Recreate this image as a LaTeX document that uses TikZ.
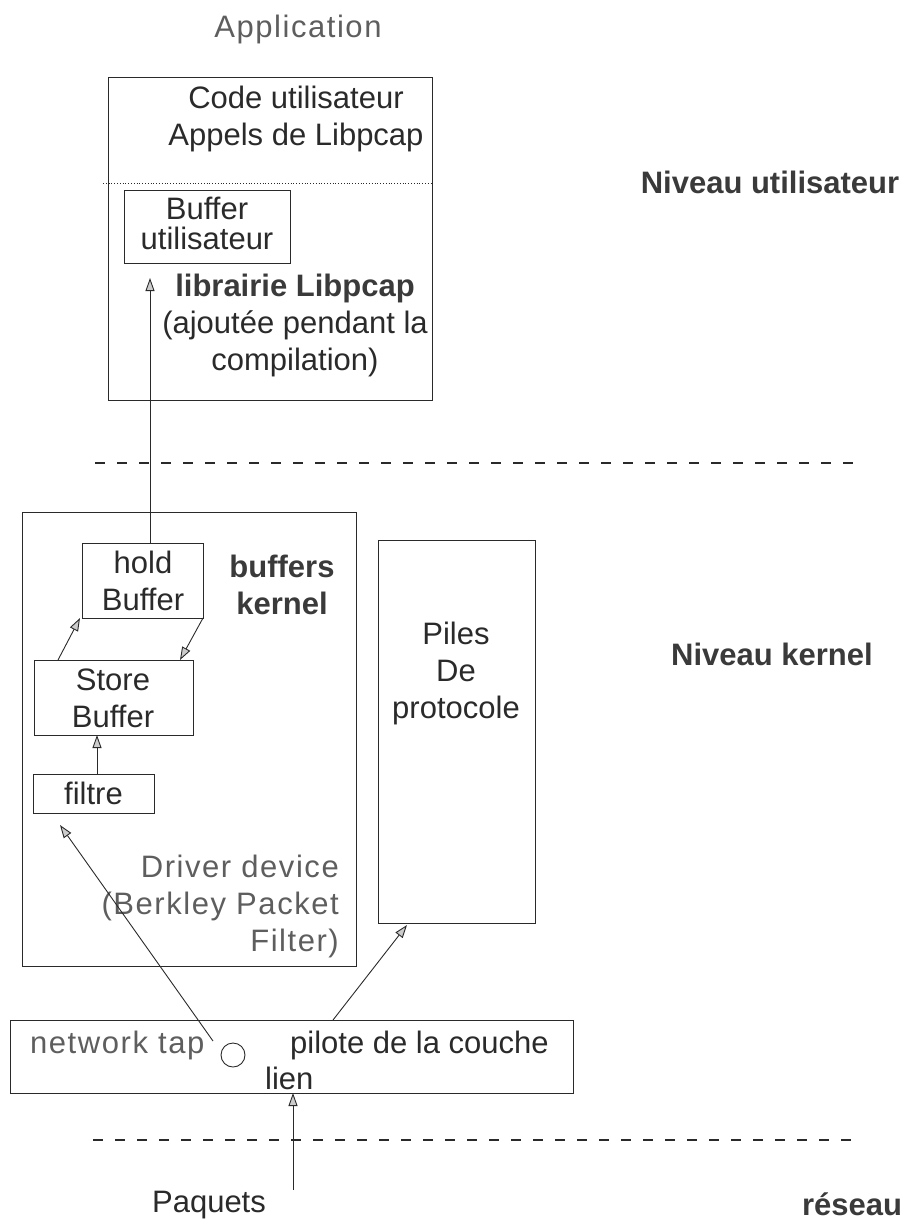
\documentclass[tikz,border=0pt]{standalone}
\usepackage{fontspec}
\setmainfont{Liberation Sans}
\newfontfamily\spacedfont[LetterSpace=5]{Liberation Sans}
\usetikzlibrary{arrows.meta,calc}

\definecolor{ink}{HTML}{2A2A2A}
\definecolor{soft}{HTML}{5E5E5E}
\definecolor{headc}{HTML}{3A3A3A}

\tikzset{
  frame/.style={draw=ink, line width=0.9pt, inner sep=0pt, outer sep=0pt},
  lbl/.style={font=\fontsize{31}{37}\selectfont, text=ink, align=center, inner sep=0pt},
  heading/.style={lbl, font=\fontsize{31}{37}\selectfont\bfseries, text=headc},
  faded/.style={lbl, font=\fontsize{31}{37}\selectfont\spacedfont, text=soft},
  flow/.style={draw=ink, line width=0.9pt, -{Triangle[length=13pt,width=9pt,fill=gray!40]}},
  layer/.style={draw=ink, line width=1.1pt, dash pattern=on 10pt off 12pt},
  sep/.style={draw=ink, line width=0.8pt, dotted},
}

\begin{document}
\begin{tikzpicture}[x=1pt, y=-1pt]
  \useasboundingbox (0,0) rectangle (910,1224);

  % ---- user level ----
  \node[faded] (app) at (298,29) {Application};
  \node[frame, minimum width=324pt, minimum height=323pt] (userbox) at (270,238.5) {};
  \node[lbl] (code) at (296,119) {Code utilisateur\\Appels de Libpcap};
  \coordinate (dotstart) at (103,183);
  \draw[sep] (dotstart) -- (userbox.east |- dotstart);
  \node[frame, minimum width=166pt, minimum height=73pt] (bufu) at (207,226.5) {};
  \node[lbl, font=\fontsize{31}{30}\selectfont] (bufutext) at (207,223) {Buffer\\utilisateur};
  \node[lbl] (libtext) at (295,325) {{\bfseries\color{headc}librairie Libpcap}\\(ajoutée pendant la\\compilation)};
  \node[heading] (nivu) at (770,182) {Niveau utilisateur};

  % ---- boundary user / kernel ----
  \coordinate (d1a) at (95,463);
  \coordinate (d1b) at (860,463);
  \draw[layer] (d1a) -- (d1b);

  % ---- kernel level ----
  \node[frame, minimum width=334pt, minimum height=454pt] (kernel) at (189,739) {};
  \node[frame, minimum width=121pt, minimum height=75pt] (hold) at (142.5,580.5) {};
  \node[lbl] (holdtext) at (143,581) {hold\\Buffer};
  \node[heading] (bufk) at (282,585) {buffers\\kernel};
  \node[frame, minimum width=159pt, minimum height=75pt] (store) at (113.5,697.5) {};
  \node[lbl] (storetext) at (113,698.5) {Store\\Buffer};
  \node[frame, minimum width=121pt, minimum height=39pt] (filtre) at (93.5,793.5) {};
  \node[lbl] (filtretext) at (93.5,793.5) {filtre};
  \node[faded, align=right, anchor=east] (bpf) at (339,906) {Driver device\\(Berkley Packet\\Filter)};

  \node[frame, minimum width=157pt, minimum height=383pt] (piles) at (456.5,731.5) {};
  \node[lbl] (pilestext) at (456,673) {Piles\\De\\protocole};
  \node[heading] (nivk) at (772,654) {Niveau kernel};

  % ---- link layer driver ----
  \node[frame, minimum width=563pt, minimum height=73pt] (link) at (291.5,1056.5) {};
  \node[faded, anchor=west] (taptext) at (30,1045) {network tap};
  \node[frame, circle, minimum size=24pt] (tap) at (233,1055) {};
  \node[lbl, anchor=west] (pilote) at (290,1045) {pilote de la couche};
  \node[lbl, anchor=west] (lien) at (265,1078) {lien};

  % ---- boundary kernel / network ----
  \coordinate (d2a) at (93,1140);
  \coordinate (d2b) at (857,1140);
  \draw[layer] (d2a) -- (d2b);

  % ---- network ----
  \node[lbl] (paquets) at (209,1205) {Paquets};
  \coordinate (src) at (293,1190);
  \node[heading] (reseau) at (852,1204) {réseau};

  % ---- packet path ----
  \draw[flow] (src) -- ($(link.south west)+(283,0)$);
  \draw[flow] ($(tap.center)+(-20,-14)$) -- ($(filtre.south west)+(27,12)$);
  \draw[flow] ($(link.north west)+(323,0)$) -- ($(piles.south west)+(29,2)$);
  \draw[flow] ($(filtre.north west)+(64,0)$) -- ($(store.south west)+(63,0)$);
  \draw[flow] ($(store.north west)+(24,0)$) -- ($(hold.south west)+(-2,0)$);
  \draw[flow] (hold.south east) -- ($(store.north east)+(-13,0)$);
  \draw[flow] ($(hold.north west)+(68,0)$) -- ($(bufu.south west)+(26,15)$);
\end{tikzpicture}
\end{document}
